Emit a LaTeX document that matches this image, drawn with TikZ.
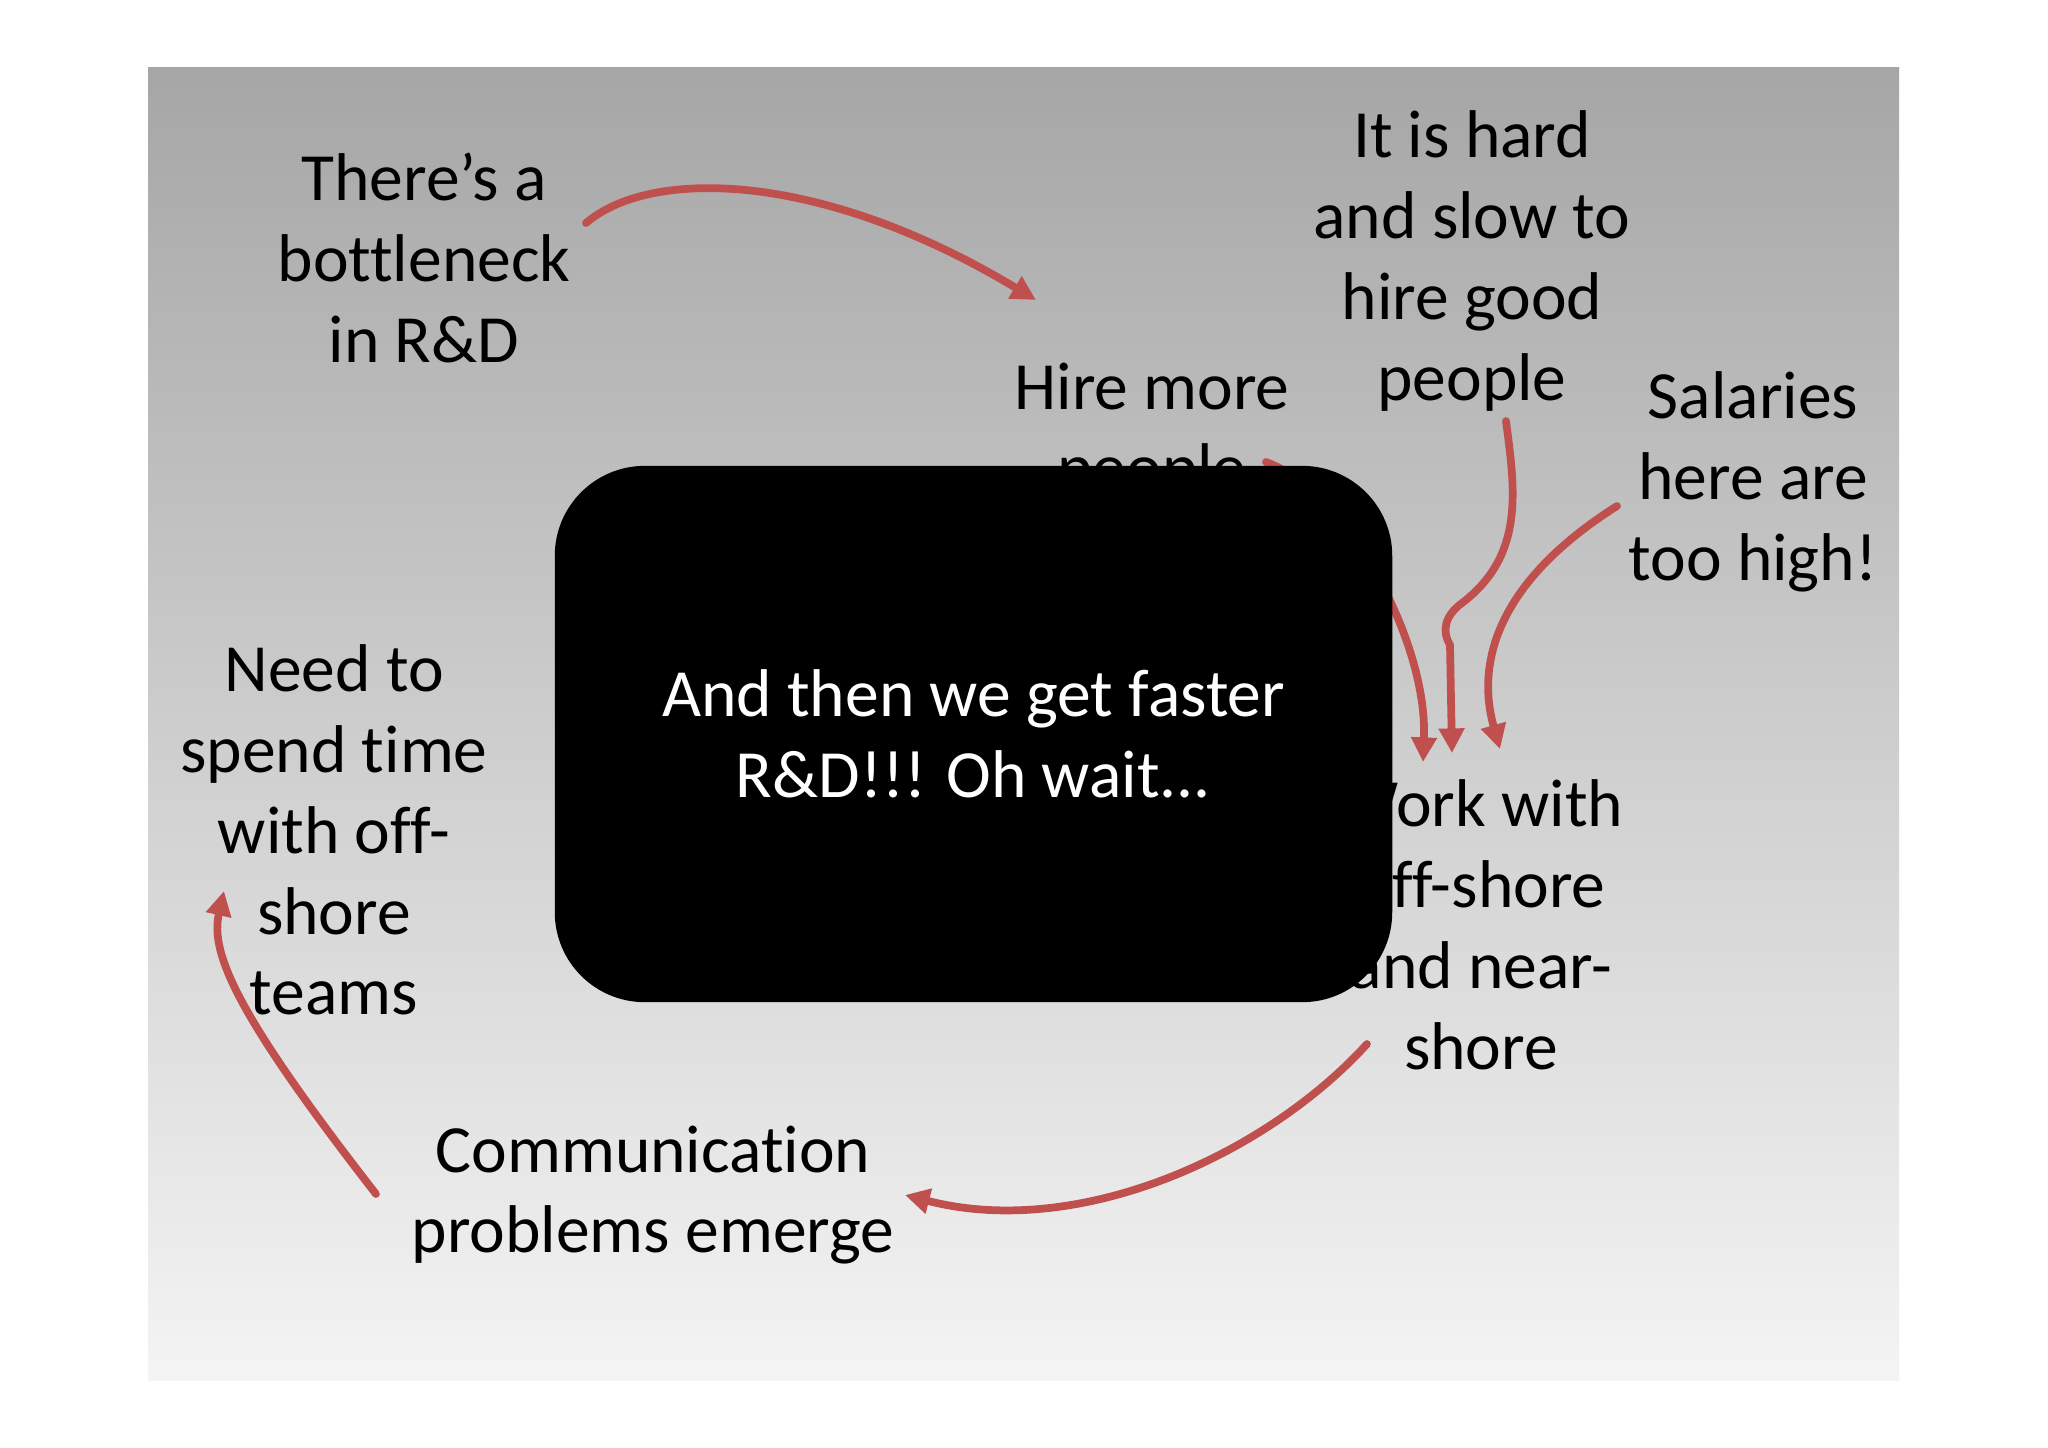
\documentclass[tikz,border=0pt]{standalone}
\usepackage{fontspec}
\setmainfont{Carlito}[Ligatures=NoCommon]
\usepackage{tikz}
\usetikzlibrary{arrows.meta}
\definecolor{panetop}{HTML}{A6A6A6}
\definecolor{panebot}{HTML}{F4F4F4}
\definecolor{arrred}{HTML}{C0504D}
\tikzset{
  lab/.style={align=center, inner sep=0pt, font=\fontsize{19.2}{23}\selectfont},
  arr/.style={draw=arrred, line width=2.2pt, line cap=round, -{Triangle[length=7pt,width=7pt]}},
  boxw/.style={lab, fill=black, text=white, rounded corners=0.9cm, minimum width=8.37cm, minimum height=5.36cm},
}

\begin{document}
\begin{tikzpicture}[x=0.01cm, y=-0.01cm]
  \useasboundingbox (0,0) rectangle (2048,1447);
  \fill[white] (0,0) rectangle (2048,1447);
  \shade[top color=panetop, bottom color=panebot] (148,67) rectangle (1899,1380);
  % the statements
  \node[lab] (bottle) at (424,258) {There’s a\\bottleneck\\in R\&D};
  \node[lab] (hard) at (1472,261) {It is hard\\and slow to\\hire good\\people};
  \node[lab] (hire) at (1152,432) {Hire more\\people};
  \node[lab] (salary) at (1753,482) {Salaries\\here are\\too high!};
  \node[lab] (need) at (334,830) {Need to\\spend time\\with off-\\shore\\teams};
  \node[lab] (work) at (1481,925) {Work with\\off-shore\\and near-\\shore};
  \node[lab] (comm) at (653,1195) {Communication\\problems emerge};
  % the arrows
  \draw[arr] ([shift={(162,-35)}]bottle.center) .. controls +(64,-55) and +(-216,-130) .. ([shift={(-116,-132)}]hire.center);
  \draw[arr] ([shift={(114,30)}]hire.center) .. controls +(79,28) and +(5,-122) .. ([shift={(-58,-163)}]work.center);
  \draw[arr] ([shift={(34,160)}]hard.center) .. controls (1515,490) and (1525,555) .. (1462,603)
    .. controls (1444,616) and (1442,632) .. (1450,645) -- ([shift={(-29,-172)}]work.center);
  \draw[arr] ([shift={(-136,24)}]salary.center) .. controls +(-117,74) and +(-25,-89) .. ([shift={(19,-176)}]work.center);
  \draw[arr] ([shift={(-114,119)}]work.center) .. controls +(-100,110) and +(175,45) .. ([shift={(252,0)}]comm.center);
  \draw[arr] ([shift={(-277,-1)}]comm.center) .. controls +(-140,-180) and +(-14,62) .. ([shift={(-110,61)}]need.center);
  % the punch line
  \node[boxw] (loop) at (973.5,734) {And then we get faster\\R\&D!!! Oh wait...};
\end{tikzpicture}
\end{document}
